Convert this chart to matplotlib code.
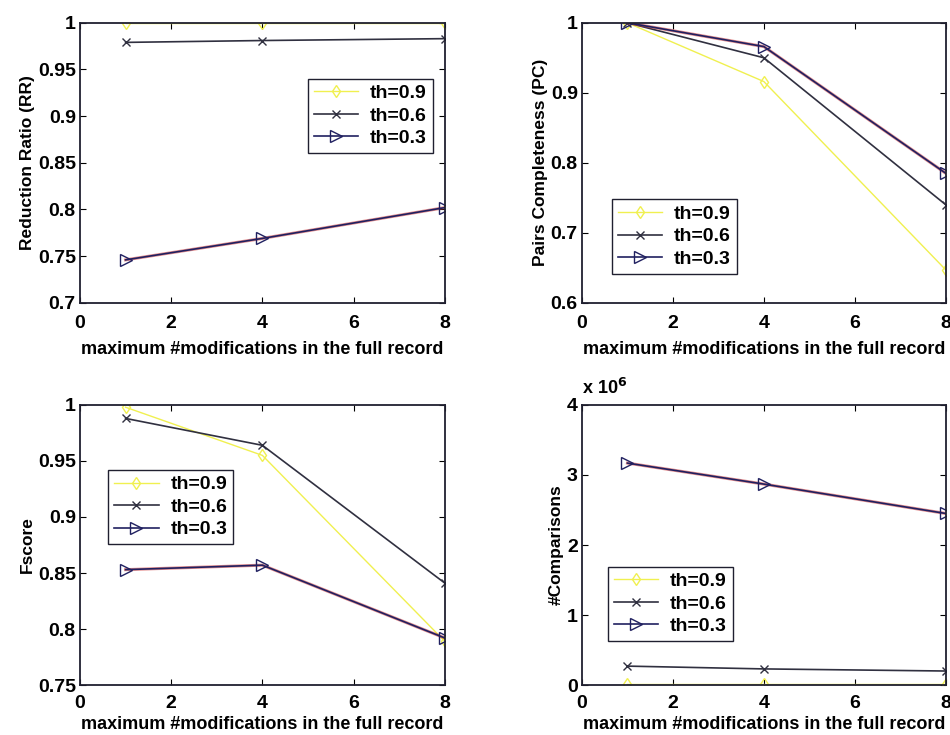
import matplotlib
matplotlib.use('Agg')
import matplotlib.pyplot as plt
from matplotlib.ticker import FuncFormatter

plt.rcParams['font.family'] = ['Liberation Sans', 'DejaVu Sans']
plt.rcParams['font.weight'] = 'bold'
plt.rcParams['axes.labelweight'] = 'bold'

# datos
x = [1, 4, 8]
labels = ['th=0.9', 'th=0.6', 'th=0.3']

rr_09 = [0.9995, 0.9995, 0.9995]
rr_06 = [0.979, 0.981, 0.983]
rr_03 = [0.746, 0.769, 0.802]

pc_09 = [1.0, 0.916, 0.647]
pc_06 = [1.0, 0.950, 0.740]
pc_03 = [1.0, 0.966, 0.785]

fs_09 = [0.998, 0.955, 0.789]
fs_06 = [0.988, 0.964, 0.841]
fs_03 = [0.853, 0.857, 0.792]

cmp_09 = [0.02e6, 0.02e6, 0.02e6]
cmp_06 = [0.27e6, 0.23e6, 0.20e6]
cmp_03 = [3.17e6, 2.87e6, 2.45e6]

xlabel = 'maximum #modifications in the full record'

fig = plt.figure(figsize=(9.5, 7.35), dpi=100)

# posiciones de los ejes (izq, abajo, ancho, alto)
pos = [
    [0.0842, 0.588, 0.384, 0.381],
    [0.6126, 0.588, 0.383, 0.381],
    [0.0842, 0.068, 0.384, 0.381],
    [0.6126, 0.068, 0.383, 0.381],
]

leg_kw = dict(fontsize=14, fancybox=False, edgecolor='#202030', framealpha=1,
              handlelength=2.3, borderpad=0.3, labelspacing=0.25,
              handletextpad=0.6, borderaxespad=0)


def dibujar(ax, y09, y06, y03, abajo=False):
    ax.plot(x, y09, color='#f0f050', marker='d', markersize=6, lw=1,
            markerfacecolor='none', label=labels[0])
    ax.plot(x, y06, color='#303040', marker='x', markersize=6, lw=1.2,
            label=labels[1])
    # linea roja debajo de la azul (como en la imagen)
    ax.plot(x, y03, color='#d04040', lw=2.2, alpha=0.6)
    ax.plot(x, y03, color='#202060', marker='>', markersize=9, lw=1.2,
            markerfacecolor='none', label=labels[2])
    ax.set_xlim(0, 8)
    ax.set_xticks([0, 2, 4, 6, 8])
    ax.tick_params(direction='in', top=True, right=True, length=4,
                   labelsize=14, pad=3)
    if abajo:
        ax.tick_params(axis='x', pad=7)
        ax.set_xlabel(xlabel, fontsize=13, labelpad=3)
    else:
        ax.tick_params(axis='x', pad=9)
        ax.set_xlabel(xlabel, fontsize=13, labelpad=6)
    for s in ax.spines.values():
        s.set_linewidth(1.3)
        s.set_color('#202030')


ax1 = fig.add_axes(pos[0])
dibujar(ax1, rr_09, rr_06, rr_03)
ax1.set_ylim(0.7, 1)
ax1.set_yticks([0.7, 0.75, 0.8, 0.85, 0.9, 0.95, 1])
ax1.set_yticklabels(['0.7', '0.75', '0.8', '0.85', '0.9', '0.95', '1'])
ax1.set_ylabel('Reduction Ratio (RR)', fontsize=12.5, labelpad=2)
ax1.legend(loc='upper right', bbox_to_anchor=(0.967, 0.80), **leg_kw)

ax2 = fig.add_axes(pos[1])
dibujar(ax2, pc_09, pc_06, pc_03)
ax2.set_ylim(0.6, 1)
ax2.set_yticks([0.6, 0.7, 0.8, 0.9, 1])
ax2.set_yticklabels(['0.6', '0.7', '0.8', '0.9', '1'])
ax2.set_ylabel('Pairs Completeness (PC)', fontsize=12.5, labelpad=2)
ax2.legend(loc='lower left', bbox_to_anchor=(0.082, 0.104), **leg_kw)

ax3 = fig.add_axes(pos[2])
dibujar(ax3, fs_09, fs_06, fs_03, abajo=True)
ax3.set_ylim(0.75, 1)
ax3.set_yticks([0.75, 0.8, 0.85, 0.9, 0.95, 1])
ax3.set_yticklabels(['0.75', '0.8', '0.85', '0.9', '0.95', '1'])
ax3.set_ylabel('Fscore', fontsize=12.5, labelpad=2)
ax3.legend(loc='upper left', bbox_to_anchor=(0.077, 0.768), **leg_kw)

ax4 = fig.add_axes(pos[3])
dibujar(ax4, cmp_09, cmp_06, cmp_03, abajo=True)
ax4.set_ylim(0, 4e6)
ax4.set_yticks([0, 1e6, 2e6, 3e6, 4e6])
ax4.yaxis.set_major_formatter(FuncFormatter(lambda v, p: '%g' % (v / 1e6)))
ax4.set_ylabel('#Comparisons', fontsize=12.5, labelpad=2)
ax4.text(0, 1.025, r'x 10$^6$', transform=ax4.transAxes, fontsize=13,
         ha='left', va='bottom')
ax4.legend(loc='lower left', bbox_to_anchor=(0.071, 0.157), **leg_kw)

fig.savefig('out.png', dpi=100)
